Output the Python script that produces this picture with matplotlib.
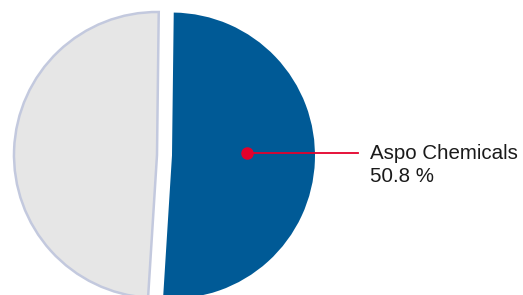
import matplotlib
matplotlib.use("Agg")
import matplotlib.pyplot as plt

# share of sales by segment
labels = ["Aspo Chemicals", "Other"]
shares = [50.8, 49.2]
colors = ["#005a96", "#e6e6e6"]
highlight = "Aspo Chemicals"

W, H = 523, 295
fig = plt.figure(figsize=(W / 100, H / 100), dpi=100)
ax = fig.add_axes([0, 0, 1, 1])

r = 143
cx, cy = 157, H - 155
# explode is in data units here (pixels), not a fraction of the radius
wedges, _ = ax.pie(shares, colors=colors, startangle=89.3, counterclock=False,
                   radius=r, center=(cx, cy), explode=[15, 0], frame=True)
ax.set_xlim(0, W)
ax.set_ylim(0, H)
ax.set_aspect("equal")
ax.axis("off")
wedges[0].set_edgecolor("none")
wedges[1].set_edgecolor("#c3c9de")
wedges[1].set_linewidth(1.8)

# callout for the highlighted slice
red = "#e4002b"
idx = labels.index(highlight)
dot_x, dot_y = 247, H - 153
ax.plot([dot_x, 358], [dot_y, dot_y], color=red, lw=1.3, zorder=5)
ax.plot(dot_x, dot_y, "o", color=red, ms=8, zorder=6)
fam = ["Liberation Sans", "DejaVu Sans"]
ax.text(370, H - 159, labels[idx], fontsize=14.8, family=fam, color="#1a1a1a", va="baseline")
ax.text(370, H - 182, f"{shares[idx]:.1f} %", fontsize=14.8, family=fam, color="#1a1a1a",
        va="baseline")

fig.savefig("out.png", dpi=100)
